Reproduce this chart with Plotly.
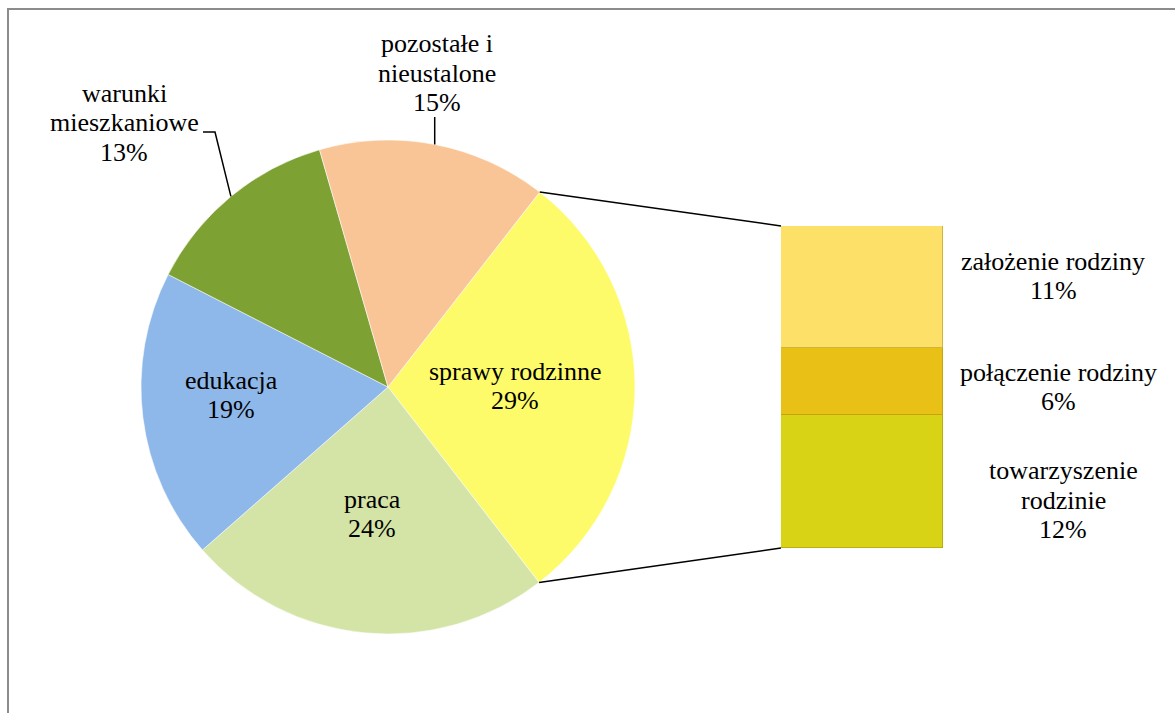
import math
import plotly.graph_objects as go

W, H = 1175, 713

# --- data -------------------------------------------------------------
pie_labels = ["sprawy rodzinne", "praca", "edukacja",
              "warunki mieszkaniowe", "pozostałe i nieustalone"]
pie_values = [29, 24, 19, 13, 15]
pie_colors = ["#FDFB6A", "#D3E4A6", "#8FB8EA", "#7EA134", "#F9C597"]

# breakdown of "sprawy rodzinne" (stacked from the bottom up)
bar_labels = ["towarzyszenie rodzinie", "połączenie rodziny", "założenie rodziny"]
bar_values = [12, 6, 11]
bar_colors = ["#D8D415", "#E9C116", "#FDE068"]

# text lines shown for each category
pie_text_lines = [["sprawy rodzinne"], ["praca"], ["edukacja"],
                  ["warunki", "mieszkaniowe"], ["pozostałe i", "nieustalone"]]
bar_text_lines = [["towarzyszenie", "rodzinie"], ["połączenie rodziny"],
                  ["założenie rodziny"]]

# --- geometry (pixels) ------------------------------------------------
PIE_CX, PIE_CY, PIE_R = 388, 387, 247
ROTATION = 37.9
BAR_LEFT, BAR_RIGHT, BAR_TOP, BAR_BOTTOM = 781, 943, 226, 548

SERIF = "Times New Roman, Liberation Serif, Tinos, DejaVu Serif, serif"
FONT = dict(family=SERIF, size=26, color="#000000")
LINE_GAP = 29.5


def px(x):
    return x / W


def py(y):
    return 1 - y / H


def edge_point(angle_deg):
    a = math.radians(angle_deg)
    return PIE_CX + PIE_R * math.sin(a), PIE_CY - PIE_R * math.cos(a)


fig = go.Figure()

fig.add_trace(go.Pie(
    labels=pie_labels, values=pie_values, sort=False,
    direction="clockwise", rotation=ROTATION,
    marker=dict(colors=pie_colors,
                line=dict(color="rgba(255,255,255,0.55)", width=1)),
    textinfo="none", hoverinfo="label+percent", showlegend=False,
    domain=dict(x=[px(PIE_CX - PIE_R), px(PIE_CX + PIE_R)],
                y=[py(PIE_CY + PIE_R), py(PIE_CY - PIE_R)]),
))

for lab, val, col in zip(bar_labels, bar_values, bar_colors):
    fig.add_trace(go.Bar(
        x=[0], y=[val], width=1, name=lab, showlegend=False,
        marker=dict(color=col, line=dict(color="rgba(150,130,0,0.45)", width=1)),
        hoverinfo="name+y",
    ))

bar_total = sum(bar_values)
total = sum(pie_values)

# slice angles (clockwise from 12 o'clock)
starts, mids = [], []
acc = ROTATION
for v in pie_values:
    span = 360 * v / total
    starts.append(acc)
    mids.append(acc + span / 2)
    acc += span
family_start = starts[0]
family_end = starts[0] + 360 * pie_values[0] / total

shapes = []
# outer frame
shapes.append(dict(type="rect", xref="paper", yref="paper",
                   x0=px(8), y0=py(9), x1=1.05, y1=-0.05,
                   line=dict(color="#8C8C8C", width=2), layer="below"))

# connectors from the family slice to the breakdown bar
for ang, by in ((family_start, BAR_TOP), (family_end, BAR_BOTTOM)):
    ex, ey = edge_point(ang)
    shapes.append(dict(type="line", xref="paper", yref="paper",
                       x0=px(ex), y0=py(ey), x1=px(BAR_LEFT), y1=py(by),
                       line=dict(color="#000000", width=1.5)))

annotations = []


def add_label(lines, cx, cy):
    n = len(lines)
    for i, t in enumerate(lines):
        y = cy + (i - (n - 1) / 2) * LINE_GAP
        annotations.append(dict(text=t, x=px(cx), y=py(y), xref="paper", yref="paper",
                                xanchor="center", yanchor="middle", showarrow=False,
                                font=FONT))


# label anchors (block centres, pixels)
pie_label_pos = [(515, 386), (372, 514), (231, 395), (124, 123), (437, 73)]
bar_label_pos = [(1063, 500), (1058, 387), (1053, 276)]

for lines, v, (cx, cy) in zip(pie_text_lines, pie_values, pie_label_pos):
    add_label(lines + [f"{v}%"], cx, cy)
for lines, v, (cx, cy) in zip(bar_text_lines, bar_values, bar_label_pos):
    add_label(lines + [f"{v}%"], cx, cy)

# leader lines for the two labels placed outside the pie
wx, wy = edge_point(mids[3])
shapes.append(dict(type="path", xref="paper", yref="paper",
                   path=f"M {px(wx)} {py(wy)} L {px(215)} {py(132)} L {px(203)} {py(132)}",
                   line=dict(color="#000000", width=1.5)))
pxp, pyp = edge_point(mids[4])
shapes.append(dict(type="line", xref="paper", yref="paper",
                   x0=px(pxp), y0=py(pyp), x1=px(pxp), y1=py(117),
                   line=dict(color="#000000", width=1.5)))

fig.update_layout(
    width=W, height=H,
    margin=dict(l=0, r=0, t=0, b=0),
    paper_bgcolor="#FFFFFF", plot_bgcolor="rgba(0,0,0,0)",
    font=dict(family=SERIF),
    barmode="stack", bargap=0,
    xaxis=dict(domain=[px(BAR_LEFT), px(BAR_RIGHT)], range=[-0.5, 0.5],
               visible=False, fixedrange=True),
    yaxis=dict(domain=[py(BAR_BOTTOM), py(BAR_TOP)], range=[0, bar_total],
               visible=False, fixedrange=True),
    shapes=shapes, annotations=annotations,
    showlegend=False,
)

fig.write_html("out.html")
